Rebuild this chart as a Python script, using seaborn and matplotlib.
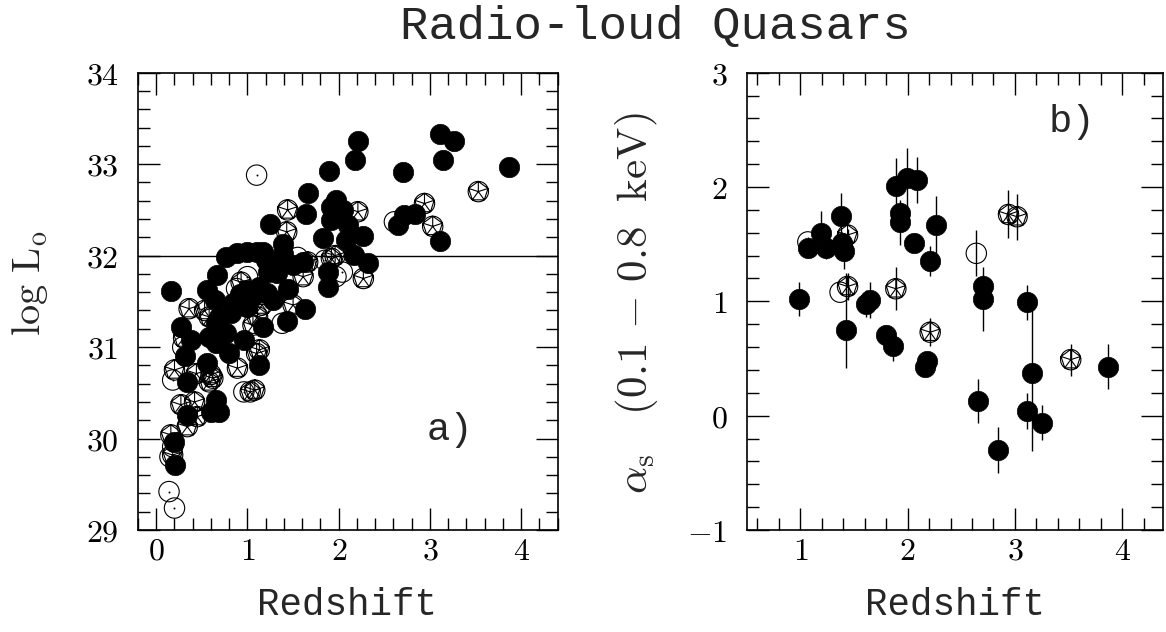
import numpy as np
import pandas as pd
import matplotlib
matplotlib.use("Agg")
import matplotlib.pyplot as plt
from matplotlib.path import Path
from matplotlib.ticker import MultipleLocator, FuncFormatter
import seaborn as sns

# ---------------- Panel a) data : redshift vs log L_o ----------------
a_filled_z = [2.21, 2.18, 1.89, 3.11, 3.26, 3.14, 3.87, 2.70, 1.66, 1.64, 1.25, 2.72, 2.65, 2.84, 3.11,
              1.97, 1.92, 2.05, 1.92, 2.10, 1.83, 2.08, 2.27, 1.39, 1.39, 1.17, 2.17, 2.32, 1.61, 1.88,
              1.88, 1.44, 1.22, 1.13, 1.63, 1.43, 1.17, 1.13, 0.16, 0.76, 1.00, 0.67, 0.56, 0.64, 0.27,
              0.38, 0.58, 0.76, 0.96, 0.31, 0.56, 0.34, 0.65, 0.34, 0.69, 0.20, 0.21, 0.99, 1.10, 1.21,
              1.28, 0.99, 0.84, 0.69, 0.82, 0.66, 0.80, 0.60, 1.10, 1.32, 1.28, 0.88, 0.66, 1.05, 0.92,
              1.50, 1.20]
a_filled_L = [33.25, 33.05, 32.93, 33.33, 33.25, 33.05, 32.97, 32.91, 32.68, 32.45, 32.35, 32.44, 32.33, 32.46, 32.16,
              32.61, 32.53, 32.50, 32.39, 32.33, 32.19, 32.17, 32.21, 32.13, 32.02, 32.04, 32.01, 31.92, 31.93, 31.82,
              31.66, 31.64, 31.82, 31.66, 31.42, 31.28, 31.22, 30.80, 31.61, 31.99, 32.04, 31.79, 31.62, 31.51, 31.22,
              31.08, 31.11, 31.15, 31.08, 30.90, 30.83, 30.62, 30.42, 30.26, 30.29, 29.96, 29.71, 31.62, 31.62, 31.59,
              31.51, 31.44, 31.48, 31.33, 31.37, 31.26, 30.93, 30.29, 32.04, 31.81, 31.92, 32.03, 31.05, 31.55, 31.58,
              31.90, 31.95]

a_open_z = [1.10, 0.14, 0.20, 0.18, 2.61, 1.85, 1.97, 1.00, 1.38, 0.96, 0.18, 0.15, 0.88, 0.29, 2.04, 1.55]
a_open_L = [32.88, 29.42, 29.24, 30.64, 32.37, 31.95, 31.77, 31.77, 31.26, 30.51, 29.91, 29.80, 31.64, 31.00, 31.82, 31.98]

a_star_z = [3.53, 2.94, 3.03, 2.21, 1.44, 1.43, 2.27, 1.61, 1.92, 1.96, 1.66, 1.50, 1.11, 1.06, 0.36, 0.53,
            0.58, 0.93, 1.13, 1.08, 1.03, 0.20, 0.62, 0.89, 0.27, 0.42, 0.45, 0.34, 0.16, 0.18, 0.60, 0.30,
            1.10, 0.44, 1.16, 0.58]
a_star_L = [32.70, 32.57, 32.32, 32.48, 32.50, 32.26, 31.75, 31.77, 31.97, 32.00, 31.93, 31.46, 31.33, 31.24, 31.42, 31.40,
            31.33, 31.71, 30.97, 30.53, 30.51, 30.75, 30.66, 30.77, 30.37, 30.40, 30.24, 30.13, 30.04, 29.82, 30.70, 31.10,
            30.93, 30.71, 31.46, 30.62]

# ---------------- Panel b) data : redshift vs alpha_s ----------------
b_filled_z = [0.99, 1.07, 1.19, 1.24, 1.38, 1.39, 1.41, 1.43, 1.65, 1.61, 1.80, 1.86, 1.89, 1.99, 2.09, 1.93,
              1.93, 2.06, 2.21, 2.26, 2.18, 2.16, 2.70, 2.70, 2.66, 2.84, 3.11, 3.16, 3.11, 3.25, 3.87]
b_filled_a = [1.02, 1.47, 1.60, 1.47, 1.75, 1.51, 1.44, 0.75, 1.01, 0.98, 0.71, 0.61, 2.01, 2.08, 2.06, 1.77,
              1.69, 1.51, 1.35, 1.67, 0.48, 0.43, 1.13, 1.02, 0.13, -0.30, 0.99, 0.37, 0.04, -0.06, 0.43]
b_filled_lo = [0.15, 0.09, 0.19, 0.10, 0.20, 0.10, 0.16, 0.33, 0.16, 0.12, 0.08, 0.13, 0.24, 0.26, 0.20, 0.10,
               0.20, 0.08, 0.13, 0.25, 0.08, 0.08, 0.10, 0.28, 0.19, 0.20, 0.15, 0.68, 0.16, 0.15, 0.20]
b_filled_hi = [0.15, 0.09, 0.19, 0.10, 0.20, 0.10, 0.16, 0.50, 0.16, 0.12, 0.08, 0.13, 0.24, 0.26, 0.20, 0.10,
               0.20, 0.08, 0.13, 0.25, 0.08, 0.08, 0.10, 0.28, 0.19, 0.20, 0.15, 0.62, 0.16, 0.15, 0.20]

b_open_z = [1.37, 1.07, 2.64]
b_open_a = [1.08, 1.52, 1.42]
b_open_err = [0.00, 0.00, 0.20]

b_star_z = [1.44, 1.44, 1.89, 2.21, 2.94, 3.02, 3.52]
b_star_a = [1.58, 1.13, 1.11, 0.73, 1.76, 1.74, 0.49]
b_star_err = [0.05, 0.12, 0.19, 0.12, 0.21, 0.20, 0.14]

TITLE = "Radio-loud Quasars"

# ---------------- style ----------------
sns.set_style("ticks")
plt.rcParams["font.family"] = ["Liberation Mono", "DejaVu Sans"]
plt.rcParams["mathtext.fontset"] = "cm"

# circle with inscribed pentagon and spokes
circ = Path.unit_circle()
ang = np.deg2rad(90 + 72 * np.arange(5))
pv = np.column_stack([np.cos(ang), np.sin(ang)])
verts = list(circ.vertices)
codes = list(circ.codes)
verts += list(pv) + [pv[0]]
codes += [Path.MOVETO] + [Path.LINETO] * 4 + [Path.CLOSEPOLY]
for p in pv:
    verts += [(0.0, 0.0), tuple(p)]
    codes += [Path.MOVETO, Path.LINETO]
STAR = Path(np.array(verts), codes)

MS = 215

fig = plt.figure(figsize=(11.66, 6.32), dpi=100)
axa = fig.add_axes([138 / 1166, 1 - 530 / 632, (557.7 - 138) / 1166, (530 - 72.7) / 632])
axb = fig.add_axes([746.7 / 1166, 1 - 530 / 632, (1163 - 746.7) / 1166, (530 - 72.7) / 632])

df_af = pd.DataFrame({"z": a_filled_z, "L": a_filled_L})
df_ao = pd.DataFrame({"z": a_open_z, "L": a_open_L})
df_as = pd.DataFrame({"z": a_star_z, "L": a_star_L})

axa.axhline(32.0, color="black", lw=1.0, zorder=1)
sns.scatterplot(data=df_ao, x="z", y="L", ax=axa, marker="o", s=MS, facecolor="none",
                edgecolor="black", linewidth=0.8, zorder=2)
sns.scatterplot(data=df_ao, x="z", y="L", ax=axa, marker="o", s=2, color="black",
                linewidth=0, zorder=2)
sns.scatterplot(data=df_as, x="z", y="L", ax=axa, marker=STAR, s=MS, facecolor="none",
                edgecolor="black", linewidth=0.8, zorder=2)
sns.scatterplot(data=df_af, x="z", y="L", ax=axa, marker="o", s=MS, color="black",
                edgecolor="black", linewidth=0.5, zorder=3)

df_bf = pd.DataFrame({"z": b_filled_z, "a": b_filled_a, "lo": b_filled_lo, "hi": b_filled_hi})
df_bo = pd.DataFrame({"z": b_open_z, "a": b_open_a, "e": b_open_err})
df_bs = pd.DataFrame({"z": b_star_z, "a": b_star_a, "e": b_star_err})

axb.vlines(df_bf["z"], df_bf["a"] - df_bf["lo"], df_bf["a"] + df_bf["hi"], color="black", lw=1.0, zorder=1)
axb.vlines(df_bo["z"], df_bo["a"] - df_bo["e"], df_bo["a"] + df_bo["e"], color="black", lw=1.0, zorder=1)
axb.vlines(df_bs["z"], df_bs["a"] - df_bs["e"], df_bs["a"] + df_bs["e"], color="black", lw=1.0, zorder=1)
sns.scatterplot(data=df_bo, x="z", y="a", ax=axb, marker="o", s=MS, facecolor="none",
                edgecolor="black", linewidth=0.8, zorder=2)
sns.scatterplot(data=df_bs, x="z", y="a", ax=axb, marker=STAR, s=MS, facecolor="none",
                edgecolor="black", linewidth=0.8, zorder=2)
sns.scatterplot(data=df_bf, x="z", y="a", ax=axb, marker="o", s=MS, color="black",
                edgecolor="black", linewidth=0.5, zorder=3)

axa.set_xlim(-0.2, 4.4)
axa.set_ylim(29, 34)
axb.set_xlim(0.5, 4.38)
axb.set_ylim(-1, 3)

fmt = FuncFormatter(lambda v, p: r"$%g$" % v)
for ax in (axa, axb):
    ax.xaxis.set_major_locator(MultipleLocator(1))
    ax.yaxis.set_major_locator(MultipleLocator(1))
    ax.xaxis.set_minor_locator(MultipleLocator(0.2))
    ax.yaxis.set_minor_locator(MultipleLocator(0.2))
    ax.xaxis.set_major_formatter(fmt)
    ax.yaxis.set_major_formatter(fmt)
    ax.tick_params(which="both", direction="in", top=True, right=True, width=1.0, colors="black")
    ax.tick_params(which="major", length=16, labelsize=23)
    ax.tick_params(which="minor", length=8.5)
    ax.tick_params(axis="y", which="major", pad=14)
    ax.tick_params(axis="x", which="major", pad=5)
    for sp in ax.spines.values():
        sp.set_visible(True)
        sp.set_linewidth(1.2)
        sp.set_color("black")
    ax.set_xlabel("")
    ax.set_ylabel("")

axa.text(3.22, 30.09, "a)", fontsize=28, ha="center", va="center")
axb.text(3.53, 2.57, "b)", fontsize=28, ha="center", va="center")

fig.text(0.562, 0.958, TITLE, fontsize=34, ha="center", va="center")
fig.text(0.298, 0.043, "Redshift", fontsize=27, ha="center", va="center")
fig.text(0.819, 0.043, "Redshift", fontsize=27, ha="center", va="center")
fig.text(0.026, 0.552, r"$\mathrm{log\ L_o}$", fontsize=29, rotation=90, ha="center", va="center")
fig.text(0.546, 0.52, r"$\alpha_{\rm s}\ \ \ \mathrm{(0.1\,-\,0.8\ \ keV)}$", fontsize=31,
         rotation=90, ha="center", va="center")

fig.savefig("out.png", dpi=100)
